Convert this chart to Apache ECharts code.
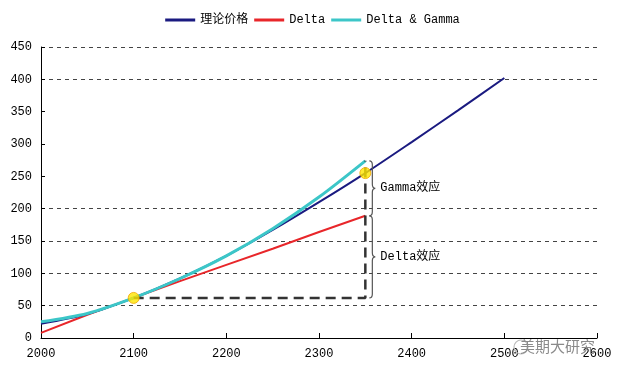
<!DOCTYPE html>
<html>
<head>
<meta charset="utf-8">
<script src="https://cdn.jsdelivr.net/npm/echarts@6/dist/echarts.min.js"></script>
<style>
  html, body { margin: 0; padding: 0; background: #fff; }
  #main { width: 625px; height: 375px; }
</style>
</head>
<body>
<div id="main"></div>
<script>
// 标的价格
var prices = [2000, 2050, 2100, 2150, 2200, 2250, 2300, 2350, 2400, 2450, 2500];
// 理论价格
var theory = [22, 37, 62, 92, 127, 167, 210, 255, 303, 352, 402];
// Delta 近似（到2350）
var deltaApprox = [8, 36, 62, 88, 113, 138, 164, 189];
// Delta & Gamma 近似（到2350）
var deltaGamma = [25, 38, 62, 92, 127, 169, 218, 274];

// 标注用的点
var basePoint = [2100, 62];
var endPrice = 2350;
var endTheory = 255;
var endDelta = 189;
var endGamma = 274;

function zip(xs, ys) {
  return ys.map(function (y, i) { return [xs[i], y]; });
}

var font = "'Liberation Mono', 'Noto Sans CJK SC', monospace";

// 大括号 + 文字
function braceItem(params, api) {
  var lo = api.coord([api.value(0), api.value(1)]);
  var hi = api.coord([api.value(0), api.value(2)]);
  var x = lo[0] + 4, yb = lo[1], yt = hi[1], ym = (yb + yt) / 2;
  var w = 6;
  var d = 'M' + x + ' ' + yt +
    ' Q' + (x + w / 2) + ' ' + yt + ' ' + (x + w / 2) + ' ' + (yt + 4) +
    ' L' + (x + w / 2) + ' ' + (ym - 4) +
    ' Q' + (x + w / 2) + ' ' + ym + ' ' + (x + w) + ' ' + ym +
    ' Q' + (x + w / 2) + ' ' + ym + ' ' + (x + w / 2) + ' ' + (ym + 4) +
    ' L' + (x + w / 2) + ' ' + (yb - 4) +
    ' Q' + (x + w / 2) + ' ' + yb + ' ' + x + ' ' + yb;
  return {
    type: 'group',
    children: [
      { type: 'path', shape: { pathData: d }, style: { fill: 'none', stroke: '#555', lineWidth: 1.2 } },
      { type: 'text', x: x + w + 5, y: ym, style: { text: api.value(3) === 0 ? 'Gamma效应' : 'Delta效应', fill: '#000', font: '12px ' + font, verticalAlign: 'middle' } }
    ]
  };
}

var myChart = echarts.init(document.getElementById('main'));
myChart.setOption({
  animation: false,
  textStyle: { fontFamily: font },
  legend: {
    top: 9,
    left: 'center',
    itemWidth: 30,
    itemHeight: 3,
    itemGap: 6,
    textStyle: { fontSize: 12, color: '#000', fontFamily: font },
    data: [
      { name: '理论价格', icon: 'rect' },
      { name: 'Delta', icon: 'rect' },
      { name: 'Delta & Gamma', icon: 'rect' }
    ]
  },
  grid: { left: 41, right: 28, top: 47, bottom: 37 },
  xAxis: {
    type: 'value',
    min: 2000,
    max: 2600,
    interval: 100,
    axisLine: { lineStyle: { color: '#000', width: 1 } },
    axisTick: { inside: true, length: 5, lineStyle: { color: '#000' } },
    axisLabel: { color: '#000', fontSize: 12, margin: 10, formatter: function (v) { return String(v); } },
    splitLine: { show: false }
  },
  yAxis: {
    type: 'value',
    min: 0,
    max: 450,
    interval: 50,
    axisLine: { show: true, lineStyle: { color: '#000', width: 1 } },
    axisTick: { show: true, inside: true, length: 4, lineStyle: { color: '#000' } },
    axisLabel: { color: '#000', fontSize: 12, margin: 9 },
    splitLine: {
      show: true,
      lineStyle: {
        type: [4, 4],
        width: 1,
        color: ['transparent', '#444', '#444', '#444', '#444', 'transparent', 'transparent', 'transparent', '#444', '#444']
      }
    }
  },
  series: [
    {
      name: 'Delta',
      type: 'line',
      data: zip(prices, deltaApprox),
      showSymbol: false,
      lineStyle: { color: '#e8262a', width: 2 },
      itemStyle: { color: '#e8262a' },
      z: 2
    },
    {
      name: '理论价格',
      type: 'line',
      data: zip(prices, theory),
      smooth: 0.3,
      showSymbol: false,
      lineStyle: { color: '#1a1a80', width: 2 },
      itemStyle: { color: '#1a1a80' },
      z: 3
    },
    {
      name: 'Delta & Gamma',
      type: 'line',
      data: zip(prices, deltaGamma),
      smooth: 0.3,
      showSymbol: false,
      lineStyle: { color: '#3cc6c8', width: 3 },
      itemStyle: { color: '#3cc6c8' },
      z: 4
    },
    {
      name: 'guide',
      type: 'line',
      data: [basePoint, [endPrice, basePoint[1]], [endPrice, endGamma]],
      showSymbol: false,
      silent: true,
      lineStyle: { color: '#333', width: 2.5, type: [10, 6] },
      z: 5
    },
    {
      name: 'brace',
      type: 'custom',
      renderItem: braceItem,
      data: [[endPrice, endDelta, endGamma, 0], [endPrice, basePoint[1], endDelta, 1]],
      silent: true,
      z: 6
    },
    {
      name: 'points',
      type: 'scatter',
      data: [basePoint, [endPrice, endTheory]],
      symbolSize: 11,
      itemStyle: { color: '#ffe600', borderColor: '#f0a800', borderWidth: 1 },
      z: 7
    }
  ],
  graphic: [
    {
      type: 'circle',
      shape: { cx: 521, cy: 347, r: 7 },
      style: { fill: 'none', stroke: '#bbb', lineWidth: 1.2 },
      z: 10
    },
    {
      type: 'text',
      right: 30,
      bottom: 21,
      style: { text: '美期大研究', fill: '#8a8a8a', font: '15px "Noto Sans CJK SC"' },
      z: 10
    }
  ]
});
</script>
</body>
</html>
